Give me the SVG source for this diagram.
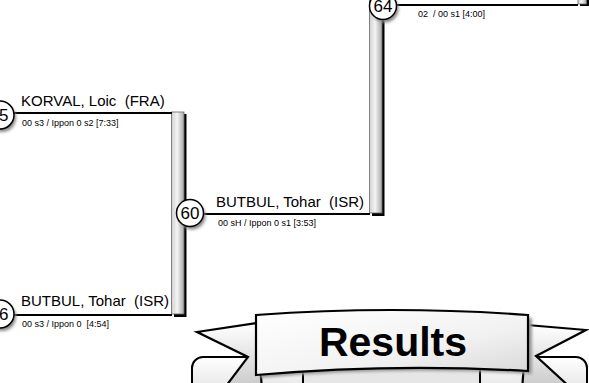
<svg xmlns="http://www.w3.org/2000/svg" width="589" height="383" viewBox="0 0 589 383">
<style>
text{white-space:pre}
.name{font-family:"Liberation Sans",Arial,sans-serif;font-size:15px;fill:#000}
.sub{font-family:"Liberation Sans",Arial,sans-serif;font-size:9px;fill:#000}
.num{font-family:"Liberation Sans",Arial,sans-serif;font-size:17px;fill:#000;text-anchor:middle}
.line{stroke:#000;stroke-width:2;fill:none}
.circ{fill:#fff;stroke:#000;stroke-width:1.5}
.shad{fill:#888;filter:url(#blur)}
.bar{fill:url(#barg);stroke:#666;stroke-width:0.8}
.barsh{fill:#000}
.rib{stroke:#000;stroke-width:2.2;stroke-linejoin:miter}
</style>
<defs>
<filter id="blur" x="-50%" y="-50%" width="200%" height="200%"><feGaussianBlur stdDeviation="1.5"/></filter>
<linearGradient id="barg" x1="0" y1="0" x2="1" y2="0">
<stop offset="0" stop-color="#d0d0d0"/><stop offset="0.45" stop-color="#f4f4f4"/><stop offset="1" stop-color="#a8a8a8"/>
</linearGradient>
<linearGradient id="bang" x1="0" y1="0" x2="1" y2="1">
<stop offset="0" stop-color="#ffffff"/><stop offset="0.6" stop-color="#f2f2f2"/><stop offset="1" stop-color="#d8d8d8"/>
</linearGradient>
<linearGradient id="tailg" x1="0" y1="0" x2="0" y2="1">
<stop offset="0" stop-color="#ffffff"/><stop offset="1" stop-color="#c8c8c8"/>
</linearGradient>
<linearGradient id="panelg" x1="0" y1="0" x2="0" y2="1">
<stop offset="0" stop-color="#ffffff"/><stop offset="1" stop-color="#d0d0d0"/>
</linearGradient>
</defs>

<g id="connectors">
<rect class="barsh" x="174" y="114" width="12.5" height="203"/>
<rect class="bar" x="171.5" y="112" width="12.5" height="202"/>
<rect class="barsh" x="372" y="-5" width="12.5" height="221"/>
<rect class="bar" x="369.5" y="-6" width="12.5" height="219"/>
<rect class="barsh" x="580" y="-5" width="9" height="11"/>
<rect class="bar" x="578" y="-6" width="8.5" height="10"/>
<line class="line" x1="12" y1="113" x2="172" y2="113"/>
<line class="line" x1="12" y1="315" x2="172" y2="315"/>
<line class="line" x1="202" y1="214" x2="370" y2="214"/>
<line class="line" x1="395" y1="5" x2="578" y2="5"/>
</g>

<g id="node55">
<circle class="shad" cx="2" cy="118" r="14"/>
<circle class="circ" cx="0" cy="115" r="14"/>
<text class="num" x="-1" y="121">55</text>
<text class="name" x="21" y="106">KORVAL, Loic  (FRA)</text>
<text class="sub" x="22" y="126">00 s3 / Ippon 0 s2 [7:33]</text>
</g>

<g id="node56">
<circle class="shad" cx="2" cy="317" r="14"/>
<circle class="circ" cx="0" cy="314" r="14"/>
<text class="num" x="-1" y="320">56</text>
<text class="name" x="21" y="306">BUTBUL, Tohar  (ISR)</text>
<text class="sub" x="22" y="327">00 s3 / Ippon 0  [4:54]</text>
</g>

<g id="node60">
<circle class="shad" cx="192" cy="216" r="13.5"/>
<circle class="circ" cx="190" cy="213" r="13.5"/>
<text class="num" x="190" y="219">60</text>
<text class="name" x="216" y="207">BUTBUL, Tohar  (ISR)</text>
<text class="sub" x="218" y="226">00 sH / Ippon 0 s1 [3:53]</text>
</g>

<g id="node64">
<circle class="shad" cx="385" cy="9" r="13.5"/>
<circle class="circ" cx="383" cy="6" r="13.5"/>
<text class="num" x="383" y="12">64</text>
<text class="sub" x="418" y="17">02  / 00 s1 [4:00]</text>
</g>

<g id="results">
<rect x="192" y="357" width="395" height="60" rx="11" fill="url(#panelg)" stroke="#000" stroke-width="2"/>
<polygon class="rib" points="257,323 197,332 248,357 223,390 262,390" fill="url(#tailg)"/>
<polygon class="rib" points="527,325 586,330 536,356 573,390 522,390" fill="url(#tailg)"/>
<rect x="303" y="360" width="177" height="40" fill="#e6e6e6" stroke="#000" stroke-width="2"/>
<path d="M260,318 Q392,308 532,318 L532,374 Q392,366 260,378 Z" fill="#999" filter="url(#blur)"/>
<path d="M256,315 Q392,305 528,315 L528,371 Q392,363 256,375 Z" fill="url(#bang)" stroke="#000" stroke-width="2.2"/>
<text x="393" y="356" font-family="'Liberation Sans',Arial,sans-serif" font-size="41" font-weight="bold" text-anchor="middle" fill="#000">Results</text>
</g>
</svg>
